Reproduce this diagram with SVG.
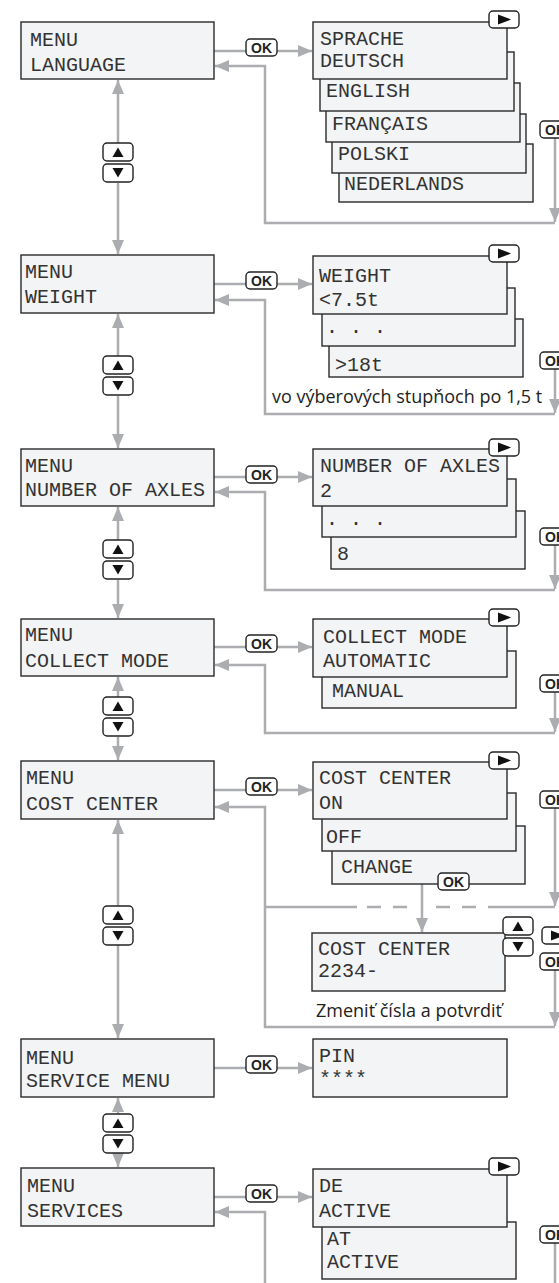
<svg xmlns="http://www.w3.org/2000/svg" xmlns:xlink="http://www.w3.org/1999/xlink" width="559" height="1283" viewBox="0 0 559 1283">
<style>
.box{fill:#f3f4f6;stroke:#2a2a2a;stroke-width:1.4}
.lcd{font-family:"Liberation Mono","DejaVu Sans Mono",monospace;font-size:20px;fill:#333}
.btn{fill:#fff;stroke:#222;stroke-width:1.4}
.ok{font-family:"Liberation Sans",Arial,sans-serif;font-weight:bold;font-size:14px;fill:#222;text-anchor:middle}
.tri{fill:#111}
.con{fill:none;stroke:#abadb0;stroke-width:2.5}
.arr{marker-end:url(#ah)}
.note{font-family:"Open Sans","Noto Sans",sans-serif;font-size:18px;fill:#222}
</style>
<defs>
<marker id="ah" markerUnits="userSpaceOnUse" markerWidth="14" markerHeight="12" refX="14" refY="6" orient="auto"><path d="M0,0 L14,6 L0,12 z" fill="#abadb0"/></marker>
<g id="okb"><rect x="0" y="0" width="31" height="17" rx="4" class="btn"/><text x="15.5" y="13.5" class="ok">OK</text></g>
<g id="play"><rect x="0" y="0" width="30" height="17" rx="4" class="btn"/><path d="M9,3.5 L22,8.5 L9,13.5 z" class="tri"/></g>
<g id="updn"><rect x="0" y="0" width="30" height="18" rx="4" class="btn"/><path d="M9.5,14 L20.5,14 L15,4.5 z" class="tri"/><rect x="0" y="21" width="30" height="18" rx="4" class="btn"/><path d="M9.5,25 L20.5,25 L15,34.5 z" class="tri"/></g>
</defs>

<g id="connectors" class="con">
<!-- left vertical navigation -->
<path class="arr" d="M118,143 V80"/><path class="arr" d="M118,183 V254"/>
<path class="arr" d="M118,356 V314"/><path class="arr" d="M118,396 V448"/>
<path class="arr" d="M118,540 V507"/><path class="arr" d="M118,580 V618"/>
<path class="arr" d="M118,697 V677"/><path class="arr" d="M118,737 V760"/>
<path class="arr" d="M118,906 V820"/><path class="arr" d="M118,944 V1038"/>
<path class="arr" d="M118,1114 V1098"/><path class="arr" d="M118,1153 V1167"/>
<!-- row 1 -->
<path d="M214,51 H246"/><path class="arr" d="M277,51 H312"/>
<path class="arr" d="M555,138 V222"/><path class="arr" d="M555,223 H265 V66 H215"/>
<!-- row 2 -->
<path d="M214,284 H246"/><path class="arr" d="M277,284 H312"/>
<path class="arr" d="M555,369 V413"/><path class="arr" d="M555,414 H265 V300 H215"/>
<!-- row 3 -->
<path d="M214,477 H246"/><path class="arr" d="M277,477 H312"/>
<path class="arr" d="M555,545 V589"/><path class="arr" d="M555,590 H265 V492 H215"/>
<!-- row 4 -->
<path d="M214,647 H246"/><path class="arr" d="M277,647 H312"/>
<path class="arr" d="M555,692 V732"/><path class="arr" d="M555,733 H265 V665 H215"/>
<!-- row 5 -->
<path d="M214,790 H246"/><path class="arr" d="M277,790 H312"/>
<path class="arr" d="M555,808 V906"/>
<path d="M265,907 H357 M367,907 H381 M393,907 H407 M436,907 H450 M462,907 H476 M488,907 H555"/>
<path class="arr" d="M422,884 V932"/>
<path class="arr" d="M555,970 V1026"/><path class="arr" d="M555,1027 H265 V807 H215"/>
<!-- row 6 -->
<path d="M214,1068 H246"/><path class="arr" d="M277,1068 H312"/>
<!-- row 7 -->
<path d="M214,1197 H246"/><path class="arr" d="M277,1197 H312"/>
<path d="M555,1243 V1283"/><path class="arr" d="M265,1283 V1212 H215"/>
</g>

<g id="nav-buttons">
<use xlink:href="#updn" x="103" y="143"/>
<use xlink:href="#updn" x="103" y="356"/>
<use xlink:href="#updn" x="103" y="540"/>
<use xlink:href="#updn" x="103" y="697"/>
<use xlink:href="#updn" x="103" y="906"/>
<use xlink:href="#updn" x="103" y="1114"/>
</g>

<g id="ok-buttons">
<use xlink:href="#okb" x="246" y="39"/>
<use xlink:href="#okb" x="246" y="272"/>
<use xlink:href="#okb" x="246" y="466"/>
<use xlink:href="#okb" x="246" y="635"/>
<use xlink:href="#okb" x="246" y="778"/>
<use xlink:href="#okb" x="246" y="1056"/>
<use xlink:href="#okb" x="246" y="1185"/>
<use xlink:href="#okb" x="540" y="121"/>
<use xlink:href="#okb" x="540" y="352"/>
<use xlink:href="#okb" x="540" y="528"/>
<use xlink:href="#okb" x="540" y="675"/>
<use xlink:href="#okb" x="540" y="791"/>
<use xlink:href="#okb" x="540" y="953"/>
<use xlink:href="#okb" x="540" y="1226"/>
</g>

<!-- left menu boxes -->
<g id="menu-language"><rect class="box" x="21" y="22" width="193" height="57"/><text class="lcd" x="30" y="46">MENU</text><text class="lcd" x="30" y="71">LANGUAGE</text></g>
<g id="menu-weight"><rect class="box" x="21" y="255" width="193" height="58"/><text class="lcd" x="25" y="278">MENU</text><text class="lcd" x="25" y="303">WEIGHT</text></g>
<g id="menu-axles"><rect class="box" x="21" y="449" width="193" height="57"/><text class="lcd" x="25" y="472">MENU</text><text class="lcd" x="25" y="496">NUMBER OF AXLES</text></g>
<g id="menu-collect"><rect class="box" x="21" y="619" width="193" height="57"/><text class="lcd" x="25" y="641">MENU</text><text class="lcd" x="25" y="667">COLLECT MODE</text></g>
<g id="menu-cost"><rect class="box" x="21" y="761" width="193" height="58"/><text class="lcd" x="26" y="784">MENU</text><text class="lcd" x="26" y="810">COST CENTER</text></g>
<g id="menu-service"><rect class="box" x="21" y="1039" width="193" height="58"/><text class="lcd" x="26" y="1064">MENU</text><text class="lcd" x="26" y="1087">SERVICE MENU</text></g>
<g id="menu-services"><rect class="box" x="21" y="1168" width="193" height="58"/><text class="lcd" x="27" y="1192">MENU</text><text class="lcd" x="27" y="1217">SERVICES</text></g>

<!-- language stack -->
<g id="lang-nl"><rect class="box" x="339" y="144" width="194" height="58"/><text class="lcd" x="344" y="190">NEDERLANDS</text></g>
<g id="lang-pl"><rect class="box" x="332" y="114" width="194" height="59"/><text class="lcd" x="338" y="160">POLSKI</text></g>
<g id="lang-fr"><rect class="box" x="326" y="83" width="194" height="59"/><text class="lcd" x="332" y="130">FRANÇAIS</text></g>
<g id="lang-en"><rect class="box" x="320" y="52" width="194" height="59"/><text class="lcd" x="326" y="97">ENGLISH</text></g>
<g id="lang-de"><rect class="box" x="313" y="22" width="194" height="57"/><text class="lcd" x="320" y="45">SPRACHE</text><text class="lcd" x="320" y="67">DEUTSCH</text></g>
<use xlink:href="#play" x="489" y="11"/>

<!-- weight stack -->
<g id="weight-max"><rect class="box" x="329" y="319" width="194" height="58"/><text class="lcd" x="335" y="371">&gt;18t</text></g>
<g id="weight-mid"><rect class="box" x="322" y="288" width="193" height="58"/><text class="lcd" x="326" y="333">. . .</text></g>
<g id="weight-min"><rect class="box" x="313" y="256" width="194" height="58"/><text class="lcd" x="319" y="282">WEIGHT</text><text class="lcd" x="319" y="306">&lt;7.5t</text></g>
<use xlink:href="#play" x="489" y="245"/>
<text class="note" x="272" y="403">vo výberových stupňoch po 1,5 t</text>

<!-- axles stack -->
<g id="axles-8"><rect class="box" x="331" y="511" width="194" height="58"/><text class="lcd" x="337" y="560">8</text></g>
<g id="axles-mid"><rect class="box" x="322" y="479" width="194" height="58"/><text class="lcd" x="326" y="525">. . .</text></g>
<g id="axles-2"><rect class="box" x="313" y="449" width="194" height="57"/><text class="lcd" x="320" y="472">NUMBER OF AXLES</text><text class="lcd" x="320" y="497">2</text></g>
<use xlink:href="#play" x="489" y="439"/>

<!-- collect stack -->
<g id="collect-manual"><rect class="box" x="322" y="651" width="194" height="57"/><text class="lcd" x="332" y="697">MANUAL</text></g>
<g id="collect-auto"><rect class="box" x="313" y="619" width="194" height="58"/><text class="lcd" x="323" y="643">COLLECT MODE</text><text class="lcd" x="323" y="667">AUTOMATIC</text></g>
<use xlink:href="#play" x="489" y="609"/>

<!-- cost center stack -->
<g id="cost-change"><rect class="box" x="332" y="826" width="193" height="58"/><text class="lcd" x="341" y="873">CHANGE</text></g>
<use xlink:href="#okb" x="438" y="873"/>
<g id="cost-off"><rect class="box" x="322" y="793" width="194" height="58"/><text class="lcd" x="326" y="843">OFF</text></g>
<g id="cost-on"><rect class="box" x="313" y="762" width="194" height="57"/><text class="lcd" x="319" y="784">COST CENTER</text><text class="lcd" x="319" y="809">ON</text></g>
<use xlink:href="#play" x="489" y="752"/>

<!-- cost center edit -->
<g id="cost-edit"><rect class="box" x="312" y="933" width="193" height="58"/><text class="lcd" x="318" y="955">COST CENTER</text><text class="lcd" x="318" y="977">2234-</text></g>
<use xlink:href="#updn" x="503" y="917"/>
<use xlink:href="#play" x="542" y="927"/>
<text class="note" x="316" y="1017">Zmeniť čísla a potvrdiť</text>

<!-- pin -->
<g id="pin"><rect class="box" x="313" y="1039" width="194" height="58"/><text class="lcd" x="319" y="1062">PIN</text><text class="lcd" x="319" y="1085">****</text></g>

<!-- services stack -->
<g id="services-at"><rect class="box" x="322" y="1222" width="194" height="57"/><text class="lcd" x="327" y="1245">AT</text><text class="lcd" x="327" y="1268">ACTIVE</text></g>
<g id="services-de"><rect class="box" x="313" y="1169" width="194" height="58"/><text class="lcd" x="319" y="1192">DE</text><text class="lcd" x="319" y="1217">ACTIVE</text></g>
<use xlink:href="#play" x="489" y="1158"/>
</svg>
